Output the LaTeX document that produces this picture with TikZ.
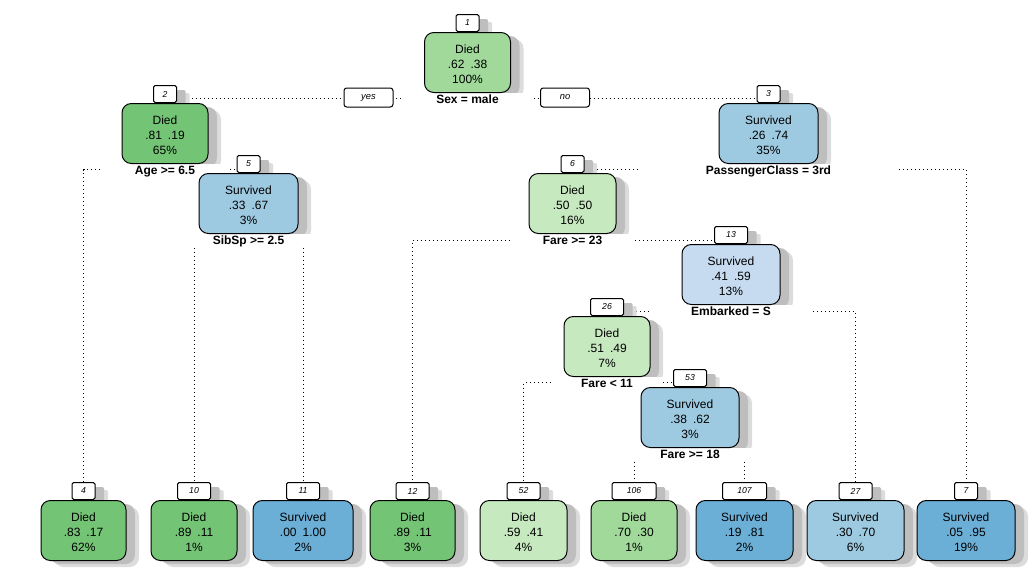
\documentclass[tikz,border=0pt]{standalone}
\usepackage{fontspec}
\setmainfont{Liberation Sans}
\pgfdeclarelayer{edgelayer}
\pgfdeclarelayer{shadowlayer}
\pgfdeclarelayer{masklayer}
\pgfsetlayers{edgelayer,shadowlayer,masklayer,main}
\definecolor{GA}{HTML}{C7E9C0}
\definecolor{GB}{HTML}{A1D99B}
\definecolor{GC}{HTML}{74C476}
\definecolor{BA}{HTML}{C6DBEF}
\definecolor{BB}{HTML}{9ECAE1}
\definecolor{BC}{HTML}{6BAED6}
\definecolor{shadowin}{HTML}{BEBEBE}
\definecolor{shadowout}{HTML}{DCDCDC}
\tikzset{
  nodebox/.style={draw=black, line width=0.75pt, rounded corners=7pt, minimum height=45pt, inner sep=0pt},
  numbox/.style={draw=black, fill=white, line width=0.75pt, rounded corners=1.2pt, minimum height=12.75pt, inner sep=0pt, font=\itshape\fontsize{6.5}{7}\selectfont},
  txt/.style={inner sep=0pt, font=\fontsize{9}{11}\selectfont},
  splittxt/.style={inner sep=0pt, font=\bfseries\fontsize{9}{11}\selectfont},
  maskbox/.style={fill=white, draw=none, inner sep=0pt},
  yesno/.style={draw=black, fill=white, line width=0.75pt, rounded corners=2pt, minimum width=36.75pt, minimum height=14.25pt, inner sep=0pt, font=\itshape\fontsize{7}{8}\selectfont},
  edge/.style={line width=0.75pt, dash pattern=on 0.75pt off 2.25pt},
}
% #1 number, #2 x, #3 top, #4 width, #5 colour, #6 class, #7 probs, #8 percent
\newcommand\treenode[8]{%
  \ifnum#1<10 \def\lw{23}\else\ifnum#1<100 \def\lw{33}\else\def\lw{44}\fi\fi
  \begin{pgfonlayer}{shadowlayer}
    \fill[shadowout, rounded corners=7pt] (#2-#4/2+13,#3+7) rectangle (#2+#4/2+13,#3+67);
    \fill[shadowout, rounded corners=1pt] (#2-\lw/2+13,#3-17+7) rectangle (#2+\lw/2+13,#3+7);
    \fill[shadowin, rounded corners=7pt] (#2-#4/2+9,#3+4) rectangle (#2+#4/2+9,#3+64);
    \fill[shadowin, rounded corners=1pt] (#2-\lw/2+9,#3-17+4) rectangle (#2+\lw/2+9,#3+4);
  \end{pgfonlayer}
  \node[nodebox, minimum width={#4*0.75pt}, fill=#5, anchor=north] (b#1) at (#2,#3) {};
  \node[numbox, minimum width={\lw*0.75pt}, anchor=south] (n#1) at (b#1.north) {#1};
  \node[txt, anchor=base] at ([shift={(0,21.5)}]b#1.north) {#6};
  \node[txt, anchor=base] at ([shift={(0,36.5)}]b#1.north) {#7};
  \node[txt, anchor=base] at ([shift={(0,51)}]b#1.north) {#8};
}
% #1 number, #2 split text, #3 mask width, #4 mask height
\newcommand\splitlab[4]{%
  \begin{pgfonlayer}{masklayer}
    \node[maskbox, minimum width={#3*0.75pt}, minimum height={#4*0.75pt}, anchor=north] (m#1) at (b#1.south) {};
  \end{pgfonlayer}
  \node[splittxt, anchor=base] (s#1) at ([shift={(0,10.5)}]b#1.south) {#2};
}
\newcommand\pr[2]{#1\hspace{0.5em}#2}
\begin{document}
\begin{tikzpicture}[x=0.75pt, y=-0.75pt]
\useasboundingbox (0,0) rectangle (1029,572);
% internal nodes
\treenode{1}{467.5}{32}{86}{GB}{Died}{\pr{.62}{.38}}{100\%}
\treenode{2}{165}{103}{86}{GC}{Died}{\pr{.81}{.19}}{65\%}
\treenode{3}{768.5}{103}{99}{BB}{Survived}{\pr{.26}{.74}}{35\%}
\treenode{5}{248.5}{173}{99}{BB}{Survived}{\pr{.33}{.67}}{3\%}
\treenode{6}{572.5}{173}{87}{GA}{Died}{\pr{.50}{.50}}{16\%}
\treenode{13}{731}{244}{98}{BA}{Survived}{\pr{.41}{.59}}{13\%}
\treenode{26}{607}{316}{86}{GA}{Died}{\pr{.51}{.49}}{7\%}
\treenode{53}{690}{387}{98}{BB}{Survived}{\pr{.38}{.62}}{3\%}
% leaves
\treenode{4}{83.5}{500}{85}{GC}{Died}{\pr{.83}{.17}}{62\%}
\treenode{10}{194}{500}{86}{GC}{Died}{\pr{.89}{.11}}{1\%}
\treenode{11}{303}{500}{100}{BC}{Survived}{\pr{.00}{1.00}}{2\%}
\treenode{12}{412.5}{500}{85}{GC}{Died}{\pr{.89}{.11}}{3\%}
\treenode{52}{523.5}{500}{87}{GA}{Died}{\pr{.59}{.41}}{4\%}
\treenode{106}{634}{500}{86}{GB}{Died}{\pr{.70}{.30}}{1\%}
\treenode{107}{744.5}{500}{97}{BC}{Survived}{\pr{.19}{.81}}{2\%}
\treenode{27}{855.5}{500}{97}{BB}{Survived}{\pr{.30}{.70}}{6\%}
\treenode{7}{966}{500}{98}{BC}{Survived}{\pr{.05}{.95}}{19\%}
% split labels
\splitlab{1}{Sex = male}{132}{10}
\splitlab{2}{Age >= 6.5}{129}{11}
\splitlab{3}{PassengerClass = 3rd}{260}{10}
\splitlab{5}{SibSp >= 2.5}{144}{13}
\splitlab{6}{Fare >= 23}{125}{12}
\splitlab{13}{Embarked = S}{164}{12}
\splitlab{26}{Fare < 11}{112}{11}
\splitlab{53}{Fare >= 18}{126}{13}
% yes / no
\node[yesno] (yes) at (368.5,97.5) {yes};
\node[yesno] (no) at (565,97.5) {no};
% edges
\begin{pgfonlayer}{edgelayer}
\draw[edge] (m1.west) -- (m1.west -| n2.east);
\draw[edge] (m1.east) -- (m1.east -| n3.west);
\draw[edge] (m2.west) -| (n4.north);
\draw[edge] (m2.east) -- (m2.east -| n5.west);
\draw[edge] (m5.south -| n10.north) -- (n10.north);
\draw[edge] (m5.south -| n11.north) -- (n11.north);
\draw[edge] (m3.west) -- (m3.west -| n6.east);
\draw[edge] (m3.east) -| (n7.north);
\draw[edge] (m6.west) -| (n12.north);
\draw[edge] (m6.east) -- (m6.east -| n13.west);
\draw[edge] (m13.west) -- (m13.west -| n26.east);
\draw[edge] (m13.east) -| (n27.north);
\draw[edge] (m26.west) -| (n52.north);
\draw[edge] (m26.east) -- (m26.east -| n53.west);
\draw[edge] (m53.south -| n106.north) -- (n106.north);
\draw[edge] (m53.south -| n107.north) -- (n107.north);
\end{pgfonlayer}
\end{tikzpicture}
\end{document}
